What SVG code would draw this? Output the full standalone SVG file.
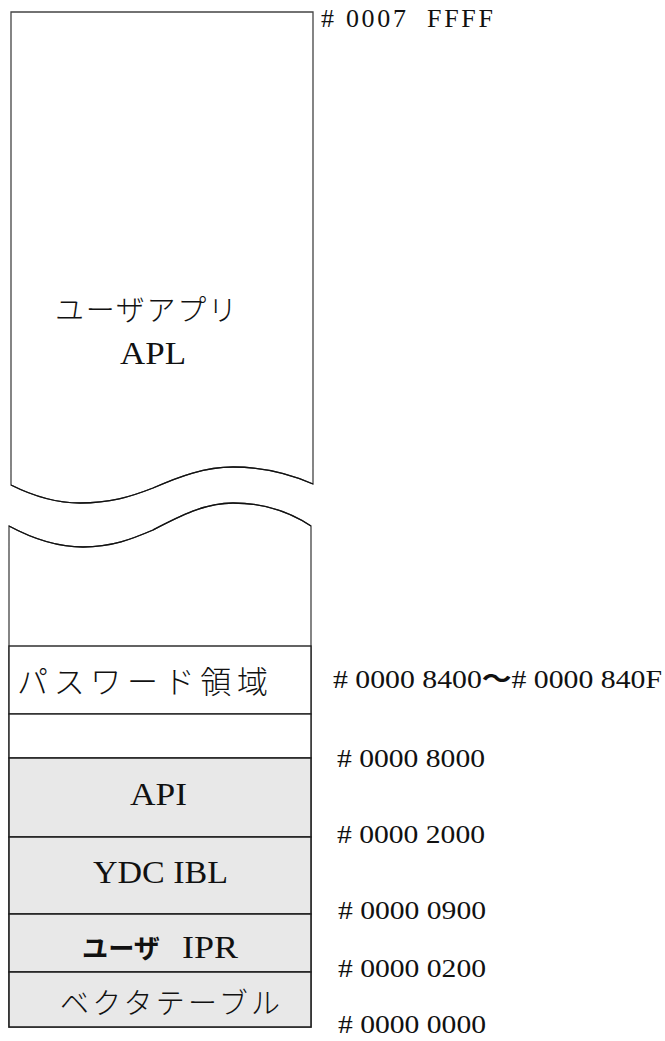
<svg xmlns="http://www.w3.org/2000/svg" width="665" height="1041" viewBox="0 0 665 1041">
<style>
.sec{fill:#fff;stroke:#444;stroke-width:1.3}
.wave{fill:none;stroke:#111;stroke-width:1.3}
.white{fill:#fff;stroke:#222;stroke-width:1.4}
.gray{fill:#e8e8e8;stroke:#222;stroke-width:1.6}
.jp{font-family:'Noto Sans CJK JP',sans-serif;font-size:28px;font-weight:300;fill:#111}
.lat{font-family:'Times New Roman','Liberation Serif',Tinos,'DejaVu Serif','Noto Serif',FreeSerif,serif;font-size:32px;fill:#111}
.addr{font-family:'Times New Roman','Liberation Serif',Tinos,'DejaVu Serif','Noto Serif',FreeSerif,serif;font-size:26px;fill:#111}
.tilde{font-family:'Noto Sans CJK JP',sans-serif;font-weight:700}
.bold{font-family:'Noto Sans CJK JP',sans-serif;font-weight:700;font-size:26px}
</style>

<g id="upper-section">
  <path class="sec" d="M11,485 V12 H313 V484 C290,474 265,467 233,467 C205,467 180,476 153,488 C130,497 110,503 80,503 C58,503 35,497 11,485 Z"/>
  <path class="wave" d="M11,485 C35,497 58,503 80,503 C110,503 130,497 153,488 C180,476 205,467 233,467 C265,467 290,474 313,484"/>
  <text class="jp" x="55" y="321" style="font-size:29px" textLength="182" lengthAdjust="spacing">ユーザアプリ</text>
  <text class="lat" x="120" y="364" textLength="66" lengthAdjust="spacingAndGlyphs">APL</text>
</g>

<g id="lower-section">
  <path class="sec" d="M9,526 C35,540 60,547 83,547 C112,547 132,539 153,530 C180,516 205,503 233,503 C265,503 290,512 311,526 V1027 H9 Z"/>
  <path class="wave" d="M9,526 C35,540 60,547 83,547 C112,547 132,539 153,530 C180,516 205,503 233,503 C265,503 290,512 311,526"/>
</g>

<g id="password-area">
  <rect class="white" x="9" y="646" width="302" height="68"/>
  <text class="jp" x="17" y="693" style="font-size:31px" textLength="251" lengthAdjust="spacing">パスワード領域</text>
</g>

<g id="empty-area">
  <rect class="white" x="9" y="714" width="302" height="44"/>
</g>

<g id="api">
  <rect class="gray" x="9" y="758" width="302" height="79"/>
  <text class="lat" x="130" y="805" textLength="57" lengthAdjust="spacingAndGlyphs">API</text>
</g>

<g id="ydc-ibl">
  <rect class="gray" x="9" y="837" width="302" height="77"/>
  <text class="lat" x="93" y="883" textLength="135" lengthAdjust="spacingAndGlyphs">YDC IBL</text>
</g>

<g id="user-ipr">
  <rect class="gray" x="9" y="914" width="302" height="58"/>
  <text y="958" fill="#111"><tspan class="bold" x="82" textLength="78" lengthAdjust="spacingAndGlyphs">ユーザ</tspan><tspan class="lat" x="182" textLength="56" lengthAdjust="spacingAndGlyphs">IPR</tspan></text>
</g>

<g id="vector-table">
  <rect class="gray" x="9" y="972" width="302" height="55"/>
  <text class="jp" x="60" y="1014" style="font-size:29px" textLength="220" lengthAdjust="spacing">ベクタテーブル</text>
</g>

<g id="addresses">
  <text class="addr" x="321" y="27" textLength="172" lengthAdjust="spacing" xml:space="preserve"># 0007  FFFF</text>
  <text class="addr" x="333" y="688" textLength="329" lengthAdjust="spacingAndGlyphs"># 0000 8400<tspan class="tilde">～</tspan># 0000 840F</text>
  <text class="addr" x="337" y="767" textLength="148" lengthAdjust="spacingAndGlyphs"># 0000 8000</text>
  <text class="addr" x="337" y="843" textLength="148" lengthAdjust="spacingAndGlyphs"># 0000 2000</text>
  <text class="addr" x="338" y="919" textLength="148" lengthAdjust="spacingAndGlyphs"># 0000 0900</text>
  <text class="addr" x="338" y="977" textLength="148" lengthAdjust="spacingAndGlyphs"># 0000 0200</text>
  <text class="addr" x="338" y="1033" textLength="148" lengthAdjust="spacingAndGlyphs"># 0000 0000</text>
</g>
</svg>
